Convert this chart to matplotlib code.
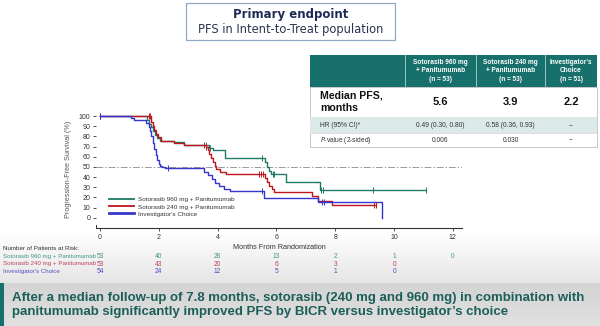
import numpy as np
import matplotlib
matplotlib.use("Agg")
import matplotlib.pyplot as plt
import matplotlib.transforms as mtransforms
from matplotlib.patches import Rectangle
from matplotlib.lines import Line2D

plt.rcParams['font.family'] = ['Liberation Sans', 'DejaVu Sans']

# Kaplan-Meier step data (months, % progression-free)
green_t = [0, 1.60, 1.66, 1.72, 1.79, 1.87, 1.95, 2.05, 2.5, 2.85, 3.70, 3.85, 4.25, 5.61, 5.68, 5.75, 5.82, 6.33, 7.48, 11.1]
green_s = [100, 96, 92, 89, 85, 81, 78, 76, 74.5, 72, 69, 66.5, 59, 55, 50, 46, 43, 35, 27, 27]
red_t = [0, 1.74, 1.79, 1.84, 1.90, 1.98, 2.08, 2.5, 2.85, 3.60, 3.66, 3.72, 3.78, 3.84, 3.90, 3.96, 4.08, 4.30,
         5.62, 5.68, 5.76, 5.84, 5.92, 7.20, 7.43, 7.88, 9.4]
red_s = [100, 94, 90, 86, 82, 79, 76, 74, 72, 70, 67, 63, 59, 55, 51, 48, 45, 43,
         39, 35, 31, 28, 25.5, 21, 16.5, 12.5, 12.5]
blue_t = [0, 1.04, 1.15, 1.58, 1.65, 1.70, 1.75, 1.80, 1.85, 1.90, 1.95, 2.00, 2.05, 2.12, 2.20,
          3.55, 3.68, 3.80, 3.92, 4.03, 4.20, 4.42, 5.56, 7.40, 9.58]
blue_s = [100, 98, 96, 93, 89, 85, 80, 74, 68, 62, 57, 53, 51, 50, 49,
          45, 42, 38, 34, 31, 28, 26, 19.5, 16, 0]

green_cens = [0, 3.60, 3.75, 5.50, 5.88, 5.92, 7.52, 7.57, 9.30, 11.1]
red_cens = [0, 1.65, 1.70, 3.55, 3.60, 5.42, 5.48, 5.53, 9.32, 9.38]
blue_cens = [0, 2.30, 5.50, 7.55, 7.62]

arm_labels = ["Sotorasib 960 mg + Panitumumab", "Sotorasib 240 mg + Panitumumab", "Investigator's Choice"]
risk_times = [0, 2, 4, 6, 8, 10, 12]
risk_green = [53, 40, 28, 13, 2, 1, 0]
risk_red = [53, 43, 20, 6, 3, 0]
risk_blue = [54, 24, 12, 5, 1, 0]

table_cols = ["Sotorasib 960 mg\n+ Panitumumab\n(n = 53)", "Sotorasib 240 mg\n+ Panitumumab\n(n = 53)",
              "Investigator's\nChoice\n(n = 51)"]
median_pfs = ["5.6", "3.9", "2.2"]
hr_ci = ["0.49 (0.30, 0.80)", "0.58 (0.36, 0.93)", "\u2013"]
p_values = ["0.006", "0.030", "\u2013"]

GREEN, RED, BLUE = "#1f7a66", "#c0141e", "#3535cf"
RISK_COLORS = ["#3f9a80", "#c0405a", "#5548c0"]
TEAL = "#17706b"

fig = plt.figure(figsize=(6, 3.26), dpi=100)

# background layer in pixel coordinates (y down)
bg = fig.add_axes([0, 0, 1, 1], zorder=0)
bg.set_xlim(0, 600)
bg.set_ylim(326, 0)
bg.axis('off')
yy = np.arange(326)
shade = np.where(yy < 232, 1.0, 1.0 - 0.10 * np.clip((yy - 232) / 50, 0, 1))
shade[283:] = np.linspace(0.83, 0.88, 326 - 283)
img = np.repeat(shade[:, None, None], 3, axis=2).repeat(2, axis=1)
bg.imshow(img, extent=[0, 600, 326, 0], aspect='auto', interpolation='bilinear')
bg.add_patch(Rectangle((0, 283), 4, 43, color=TEAL, lw=0))

# title box
bg.add_patch(Rectangle((186, 3), 209, 37, fc='white', ec='#8fa9c6', lw=0.9))
bg.text(290.5, 14.5, "Primary endpoint", ha='center', va='center', fontsize=8.5,
        fontweight='bold', color='#1d2b56', family='DejaVu Sans')
bg.text(290.5, 29, "PFS in Intent-to-Treat population", ha='center', va='center',
        fontsize=8.3, color='#2c3550', family='DejaVu Sans')

# results table
tx = [310, 405, 476, 545, 597]
bg.add_patch(Rectangle((tx[0], 55), tx[-1] - tx[0], 32, fc=TEAL, lw=0))
for x in tx[1:-1]:
    bg.plot([x, x], [55, 87], color='#9cc7c4', lw=0.7)
bg.add_patch(Rectangle((tx[0], 87), tx[-1] - tx[0], 60, fc='white', ec='#c8c8c8', lw=0.7))
bg.add_patch(Rectangle((tx[0], 117), tx[-1] - tx[0], 16, fc='#dbe9e8', lw=0))
bg.plot([tx[0], tx[-1]], [133, 133], color='#d0d0d0', lw=0.5)
for i, lab in enumerate(table_cols):
    cx = (tx[i + 1] + tx[i + 2]) / 2
    bg.text(cx, 71, lab, ha='center', va='center', fontsize=4.7, color='white',
            fontweight='bold', linespacing=1.35)
    bg.text(cx, 102, median_pfs[i], ha='center', va='center', fontsize=8, fontweight='bold', color='#111111')
    bg.text(cx, 125.5, hr_ci[i], ha='center', va='center', fontsize=4.8, color='#333333')
    bg.text(cx, 140, p_values[i], ha='center', va='center', fontsize=4.8, color='#333333')
bg.text(320, 102, "Median PFS,\nmonths", ha='left', va='center', fontsize=7.6,
        fontweight='bold', color='#111111', linespacing=1.25)
bg.text(320, 125.5, "HR (95% CI)*", ha='left', va='center', fontsize=4.8, color='#333333')
bg.text(320, 140, "$\\it{P}$-value (2-sided)", ha='left', va='center', fontsize=4.8, color='#333333')

# banner (shrink to fit the slide width)
banner = ("After a median follow-up of 7.8 months, sotorasib (240 mg and 960 mg) in combination with\n"
          "panitumumab significantly improved PFS by BICR versus investigator\u2019s choice")
btxt = bg.text(12, 305, banner, ha='left', va='center', fontsize=10, fontweight='bold',
               color='#1c5e59', linespacing=1.25)
fig.canvas.draw()
bw = btxt.get_window_extent().width
btxt.set_fontsize(10 * 572 / bw)

# KM plot
ax = fig.add_axes([0.16, 1 - 228 / 326, 366 / 600, 117 / 326], zorder=1)
ax.patch.set_alpha(0)
ax.set_xlim(-0.136, 12.31)
ax.set_ylim(-10, 105)
ax.axhline(50, color='#9a9a9a', lw=0.7, ls=(0, (7, 2, 1.5, 2)), zorder=1)

arms = [(green_t, green_s, green_cens, GREEN), (red_t, red_s, red_cens, RED), (blue_t, blue_s, blue_cens, BLUE)]
handles = []
for (t, s, cens, col), lab in zip(arms, arm_labels):
    t = np.array(t)
    s = np.array(s)
    ax.step(t, s, where='post', color=col, lw=1.0, zorder=3)
    idx = np.searchsorted(t, cens, side='right') - 1
    ax.plot(cens, s[idx], ls='none', marker='|', ms=4, mew=0.7, color=col, zorder=4)
    handles.append(Line2D([], [], color=col, lw=1.3 if col != BLUE else 2.0, label=lab))

ax.legend(handles=handles, loc='lower left', bbox_to_anchor=(0.027, 0.07), frameon=False,
          fontsize=4.6, handlelength=3.9, handletextpad=0.6, labelspacing=0.25, borderpad=0,
          labelcolor='#333333')

ax.set_yticks(range(0, 101, 10))
ax.set_xticks(risk_times)
ax.tick_params(labelsize=5, length=2.5, width=0.6, pad=1.5, colors='#333333')
for sp in ['top', 'right']:
    ax.spines[sp].set_visible(False)
ax.spines['left'].set_bounds(-10, -7)
ax.spines['left'].set_linewidth(0.7)
ax.spines['bottom'].set_linewidth(0.8)
ax.spines['bottom'].set_color('#333333')
ax.spines['left'].set_color('#333333')
ax.set_xlabel("Months From Randomization", fontsize=5.2, labelpad=2.5, color='#333333')
ax.set_ylabel("Progression-Free Survival (%)", fontsize=5.2, labelpad=5, color='#555555')

# number at risk table
tr = mtransforms.blended_transform_factory(ax.transData, bg.transData)
bg.text(3, 249, "Number of Patients at Risk:", ha='left', va='center', fontsize=4.5, color='#333333')
for k, (lab, counts) in enumerate(zip(arm_labels, [risk_green, risk_red, risk_blue])):
    y = 256.5 + k * 7.5
    bg.text(3, y, lab, ha='left', va='center', fontsize=4.4, color=RISK_COLORS[k])
    for t, n in zip(risk_times, counts):
        ax.text(t, y, str(n), transform=tr, ha='center', va='center', fontsize=4.8,
                color=RISK_COLORS[k], clip_on=False)

fig.savefig("out.png", dpi=100)
